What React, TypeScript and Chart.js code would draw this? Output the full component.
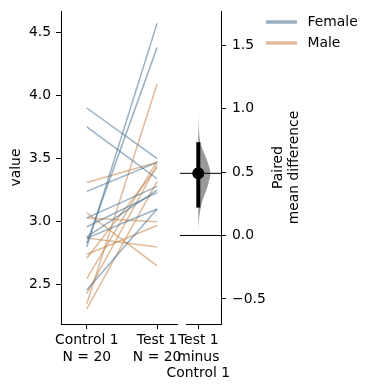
import React, { useEffect, useRef } from 'react';
import { Chart, registerables } from 'chart.js';

Chart.register(...registerables);

// ---------------- data ----------------
const groupNames = ['Female', 'Male'];
const groupColors = ['rgba(68, 112, 143, 0.55)', 'rgba(195, 131, 74, 0.55)'];

const femaleControl = [3.90, 3.75, 3.24, 3.03, 2.96, 2.87, 2.83, 2.80, 2.46, 2.88];
const femaleTest = [3.50, 3.34, 3.47, 3.28, 3.23, 3.10, 4.38, 4.57, 3.10, 3.25];
const maleControl = [3.31, 3.07, 2.87, 2.74, 2.71, 2.55, 2.43, 2.35, 2.31, 3.03];
const maleTest = [3.47, 2.65, 2.80, 2.97, 3.43, 3.48, 3.45, 4.09, 3.32, 3.00];

const rawCategories = [['Control 1', 'N = 20'], ['Test 1', 'N = 20']];
const deltaCategories = [['Test 1', 'minus', 'Control 1']];
const rawTicks = [2.5, 3.0, 3.5, 4.0, 4.5];
const deltaTicks = [-0.5, 0.0, 0.5, 1.0, 1.5];
const rawAxisTitle = 'value';
const deltaAxisTitle = ['Paired', 'mean difference'];

// bootstrap CI and distribution shape of the paired mean difference
const ciLow = 0.22;
const ciHigh = 0.735;
const bootValues = [0.0, 0.1, 0.2, 0.27, 0.38, 0.49, 0.57, 0.645, 0.735, 0.85, 1.0];
const bootDensity = [0, 0.03, 0.17, 0.33, 0.75, 1.0, 0.8, 0.5, 0.17, 0.04, 0];

// ---------------- layout / style ----------------
const FONT = "'DejaVu Sans', sans-serif";
const FS = 13.9;
const DELTA_LEFT = 150;

const mean = (a: number[]) => a.reduce((s, v) => s + v, 0) / a.length;

export default function App() {
  const rawRef = useRef<HTMLCanvasElement>(null);
  const deltaRef = useRef<HTMLCanvasElement>(null);

  useEffect(() => {
    document.body.style.margin = '0';
    Chart.defaults.font.family = FONT;
    Chart.defaults.font.size = FS;
    Chart.defaults.color = '#000';

    const controls = [femaleControl, maleControl];
    const tests = [femaleTest, maleTest];
    const rawDatasets: any[] = [];
    controls.forEach((ctrl, g) => {
      ctrl.forEach((c, i) => {
        rawDatasets.push({
          label: groupNames[g],
          data: [{ x: 0, y: c }, { x: 1, y: tests[g][i] }],
          borderColor: groupColors[g],
          borderWidth: 1.5,
          pointRadius: 0,
          pointHoverRadius: 0,
          tension: 0,
          fill: false,
        });
      });
    });

    const allControl = [...femaleControl, ...maleControl];
    const allTest = [...femaleTest, ...maleTest];
    const meanDiff = mean(allTest) - mean(allControl);

    const grid = { display: true, drawOnChartArea: false, drawTicks: true, tickLength: 5, color: '#000', lineWidth: 1 };
    const border = { display: true, color: '#000', width: 1 };

    const raw = new Chart(rawRef.current as HTMLCanvasElement, {
      type: 'line',
      data: { datasets: rawDatasets },
      options: {
        animation: false,
        responsive: false,
        events: [],
        layout: { padding: { left: 0, top: 11, right: 13, bottom: 0 } },
        plugins: { legend: { display: false }, tooltip: { enabled: false } },
        scales: {
          x: {
            type: 'linear',
            min: -0.367,
            max: 1.283,
            afterBuildTicks: (s: any) => { s.ticks = rawCategories.map((_, i) => ({ value: i })); },
            afterFit: (s: any) => { s.height = 66; s.paddingLeft = 0; s.paddingRight = 0; },
            ticks: { callback: (_v: any, i: number) => rawCategories[i], padding: 3, maxRotation: 0, minRotation: 0, autoSkip: false },
            grid,
            border,
          },
          y: {
            type: 'linear',
            min: 2.19,
            max: 4.668,
            afterBuildTicks: (s: any) => { s.ticks = rawTicks.map((v) => ({ value: v })); },
            afterFit: (s: any) => { s.width = 61; s.paddingTop = 0; s.paddingBottom = 0; },
            ticks: { callback: (v: any) => Number(v).toFixed(1), padding: 5 },
            title: { display: true, text: rawAxisTitle, padding: { top: 8, bottom: 0 } },
            grid,
            border,
          },
        },
      } as any,
    });

    // violin polygon edge: widths scaled to the x-units of the delta axis
    const violinHalfWidth = 0.49;
    const violinData = bootValues.map((v, i) => ({ x: bootDensity[i] * violinHalfWidth, y: v }));
    const lineStart = -0.744;
    const lineEnd = 0.924;

    const overlay = {
      id: 'overlay',
      afterDraw(chart: any) {
        const ctx = chart.ctx;
        ctx.save();
        // legend
        ctx.font = `${FS}px ${FONT}`;
        ctx.textBaseline = 'middle';
        ctx.textAlign = 'left';
        groupNames.forEach((name, i) => {
          const y = 22 + i * 21;
          ctx.strokeStyle = groupColors[i];
          ctx.lineWidth = 3.5;
          ctx.beginPath();
          ctx.moveTo(266 - DELTA_LEFT, y);
          ctx.lineTo(297 - DELTA_LEFT, y);
          ctx.stroke();
          ctx.fillStyle = '#000';
          ctx.fillText(name, 307.5 - DELTA_LEFT, y + 0.5);
        });
        // right axis title, rotated bottom-to-top
        const ca = chart.chartArea;
        const cy = (ca.top + ca.bottom) / 2;
        ctx.translate(0, cy);
        ctx.rotate(-Math.PI / 2);
        ctx.textAlign = 'center';
        deltaAxisTitle.forEach((t, i) => {
          ctx.fillText(t, 0, 278 - DELTA_LEFT + i * 16);
        });
        ctx.restore();
      },
    };

    const delta = new Chart(deltaRef.current as HTMLCanvasElement, {
      type: 'line',
      data: {
        datasets: [
          {
            label: 'mean',
            data: [{ x: 0, y: meanDiff }],
            showLine: false,
            pointRadius: 6,
            pointHoverRadius: 6,
            pointBackgroundColor: '#000',
            pointBorderColor: '#000',
            pointBorderWidth: 0,
            order: 0,
          },
          {
            label: 'ci',
            data: [{ x: 0, y: ciLow }, { x: 0, y: ciHigh }],
            borderColor: '#000',
            borderWidth: 4,
            pointRadius: 0,
            pointHoverRadius: 0,
            order: 1,
          },
          {
            label: 'zero',
            data: [{ x: lineStart, y: 0 }, { x: lineEnd, y: 0 }],
            borderColor: '#000',
            borderWidth: 1,
            pointRadius: 0,
            pointHoverRadius: 0,
            clip: false,
            order: 2,
          },
          {
            label: 'effect',
            data: [{ x: lineStart, y: meanDiff }, { x: lineEnd, y: meanDiff }],
            borderColor: '#000',
            borderWidth: 1,
            pointRadius: 0,
            pointHoverRadius: 0,
            clip: false,
            order: 2,
          },
          {
            label: 'violin',
            indexAxis: 'y',
            data: violinData,
            borderWidth: 0,
            borderColor: 'rgba(0,0,0,0)',
            backgroundColor: 'rgba(127,127,127,0.8)',
            fill: 'origin',
            tension: 0.3,
            pointRadius: 0,
            pointHoverRadius: 0,
            order: 3,
          },
        ],
      },
      options: {
        animation: false,
        responsive: false,
        events: [],
        layout: { padding: { left: 186 - DELTA_LEFT, top: 11, right: 372 - DELTA_LEFT - (221 - DELTA_LEFT) - 80, bottom: 0 } },
        plugins: { legend: { display: false }, tooltip: { enabled: false } },
        scales: {
          x: {
            type: 'linear',
            min: -0.5,
            max: 0.924,
            afterBuildTicks: (s: any) => { s.ticks = deltaCategories.map((_, i) => ({ value: i })); },
            afterFit: (s: any) => { s.height = 66; s.paddingLeft = 0; s.paddingRight = 0; },
            ticks: { callback: (_v: any, i: number) => deltaCategories[i], padding: 3, maxRotation: 0, minRotation: 0, autoSkip: false },
            grid,
            border,
          },
          y: {
            type: 'linear',
            position: 'right',
            min: -0.697,
            max: 1.768,
            afterBuildTicks: (s: any) => { s.ticks = deltaTicks.map((v) => ({ value: v })); },
            afterFit: (s: any) => { s.width = 80; s.paddingTop = 0; s.paddingBottom = 0; },
            ticks: { callback: (v: any) => Number(v).toFixed(1).replace('-', '\u2212'), padding: 6 },
            grid,
            border,
          },
        },
      } as any,
      plugins: [overlay],
    });

    return () => {
      raw.destroy();
      delta.destroy();
    };
  }, []);

  return (
    <div style={{ position: 'relative', width: 372, height: 390 }}>
      <canvas ref={rawRef} width={190} height={390} style={{ position: 'absolute', left: 0, top: 0, width: 190, height: 390 }} />
      <canvas ref={deltaRef} width={372 - DELTA_LEFT} height={390} style={{ position: 'absolute', left: DELTA_LEFT, top: 0, width: 372 - DELTA_LEFT, height: 390 }} />
    </div>
  );
}
